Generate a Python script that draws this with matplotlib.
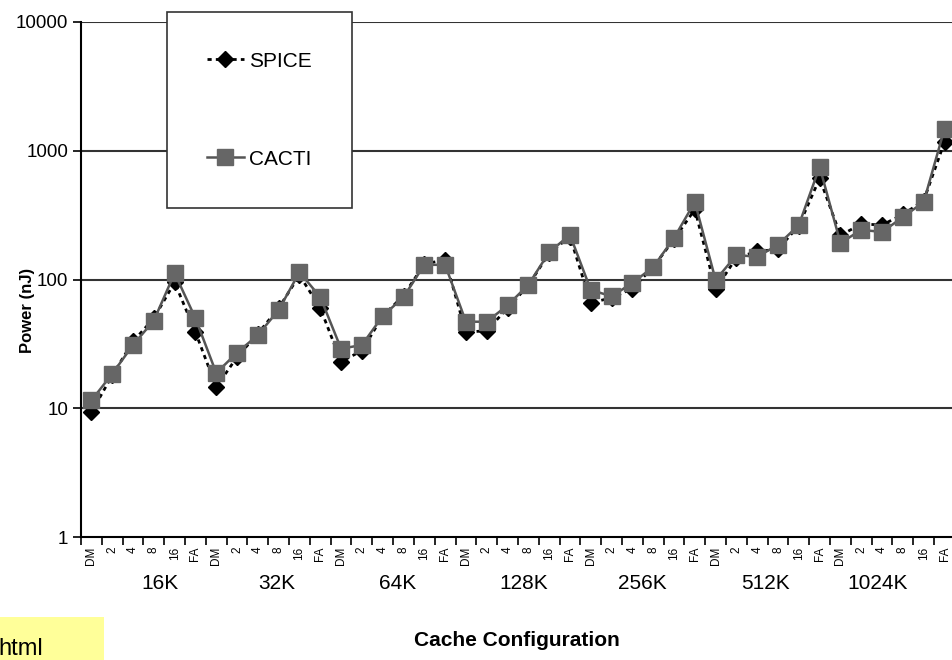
import numpy as np
import matplotlib.pyplot as plt
from matplotlib.lines import Line2D

# cache sizes and associativities
groups = ['16K', '32K', '64K', '128K', '256K', '512K', '1024K']
assoc  = ['DM', '2', '4', '8', '16', 'FA']

# power in nJ (7 groups x 6 associativities)
cacti = [11.5, 18.5, 31, 48, 112, 50,
         18.8, 27, 37, 58, 114, 73,
         29, 31, 52, 73, 130, 130,
         47, 47, 63, 91, 163, 222,
         83, 74, 94, 125, 210, 400,
         99, 155, 150, 186, 265, 750,
         192, 243, 234, 305, 400, 1480]
spice = [9.3, 18, 33, 50, 95, 39,
         14.6, 25, 38, 60, 108, 60,
         23, 28, 52, 75, 132, 142,
         39, 40, 60, 90, 160, 215,
         66, 72, 85, 125, 205, 350,
         84, 148, 165, 172, 262, 610,
         220, 270, 265, 320, 410, 1170]

yticks = [1, 10, 100, 1000, 10000]
group_label_pos = [3.3, 8.9, 14.7, 20.8, 26.5, 32.4, 37.8]  # where the size labels sit

fam = ['Liberation Sans Narrow', 'Liberation Sans', 'DejaVu Sans']

fig = plt.figure(figsize=(9.53, 6.6), dpi=100, facecolor='white')
ax = fig.add_axes([81/953, 1-537/660, 1-81/953+0.002, (537-22)/660])

x = np.arange(len(cacti))
ax.plot(x, spice, color='black', lw=2, ls=(0, (1.5, 1.5)), marker='D', ms=8,
        mfc='black', mec='black', zorder=3, label='SPICE')
ax.plot(x, cacti, color='#555555', lw=1.8, marker='s', ms=11,
        mfc='#666666', mec='#666666', zorder=4, label='CACTI')

ax.set_yscale('log')
ax.set_ylim(1, 10000)
ax.set_xlim(-0.5, len(cacti) - 0.5)
ax.set_yticks(yticks)
ax.set_yticklabels([str(v) for v in yticks], family=fam, fontsize=13.5)
ax.yaxis.set_minor_locator(plt.NullLocator())
ax.tick_params(axis='y', length=6, width=1.2, direction='out', pad=3)
for v in yticks[1:]:
    ax.axhline(v, color='#333333', lw=1.5, zorder=1)

# associativity labels at category centres, tick marks between categories
ax.set_xticks(x)
ax.set_xticklabels(assoc * len(groups), rotation=90, fontsize=8.5, family=fam[1:])
ax.tick_params(axis='x', which='major', length=0, pad=7)
ax.set_xticks(np.arange(-0.5, len(cacti) + 0.5, 1), minor=True)
ax.tick_params(axis='x', which='minor', length=6, width=1.2, direction='out')

for sp in ['top', 'right']:
    ax.spines[sp].set_visible(False)
for sp in ['left', 'bottom']:
    ax.spines[sp].set_linewidth(1.5)

for g, p in zip(groups, group_label_pos):
    ax.text(p, -0.091, g, transform=ax.get_xaxis_transform(), ha='center',
            va='center', family=fam, fontsize=15)

fig.text(517/953, 1-640/660, 'Cache Configuration', ha='center', va='center',
         family=fam, fontsize=15, fontweight='bold')
fig.text(28/953, 1-310/660, 'Power (nJ)', rotation=90, ha='center', va='center',
         family=fam[1:], fontsize=12, fontweight='bold')

handles = [Line2D([], [], color='black', lw=2, ls=(0, (1.5, 1.5)), marker='D', ms=8,
                  mfc='black', mec='black'),
           Line2D([], [], color='#555555', lw=1.8, marker='s', ms=11,
                  mfc='#666666', mec='#666666')]
leg = ax.legend(handles, ['SPICE', 'CACTI'], loc='upper left',
                bbox_to_anchor=(167/953, 1-12/660), bbox_transform=fig.transFigure,
                borderaxespad=0, fancybox=False, framealpha=1, edgecolor='#333333',
                prop={'family': fam, 'size': 15}, labelspacing=3.8,
                borderpad=1.9, handlelength=1.8, handletextpad=0.25)
leg.get_frame().set_linewidth(1.2)
leg.set_zorder(10)

# yellow note box cut off at the bottom left
fig.patches.append(plt.Rectangle((0, 0), 104/953, 43/660, transform=fig.transFigure,
                                 facecolor='#ffff99', edgecolor='none'))
fig.text(-0.002, 0.0, 'html', ha='left', va='bottom', fontsize=17, family=fam[1:])

fig.savefig('out.png', dpi=100)
